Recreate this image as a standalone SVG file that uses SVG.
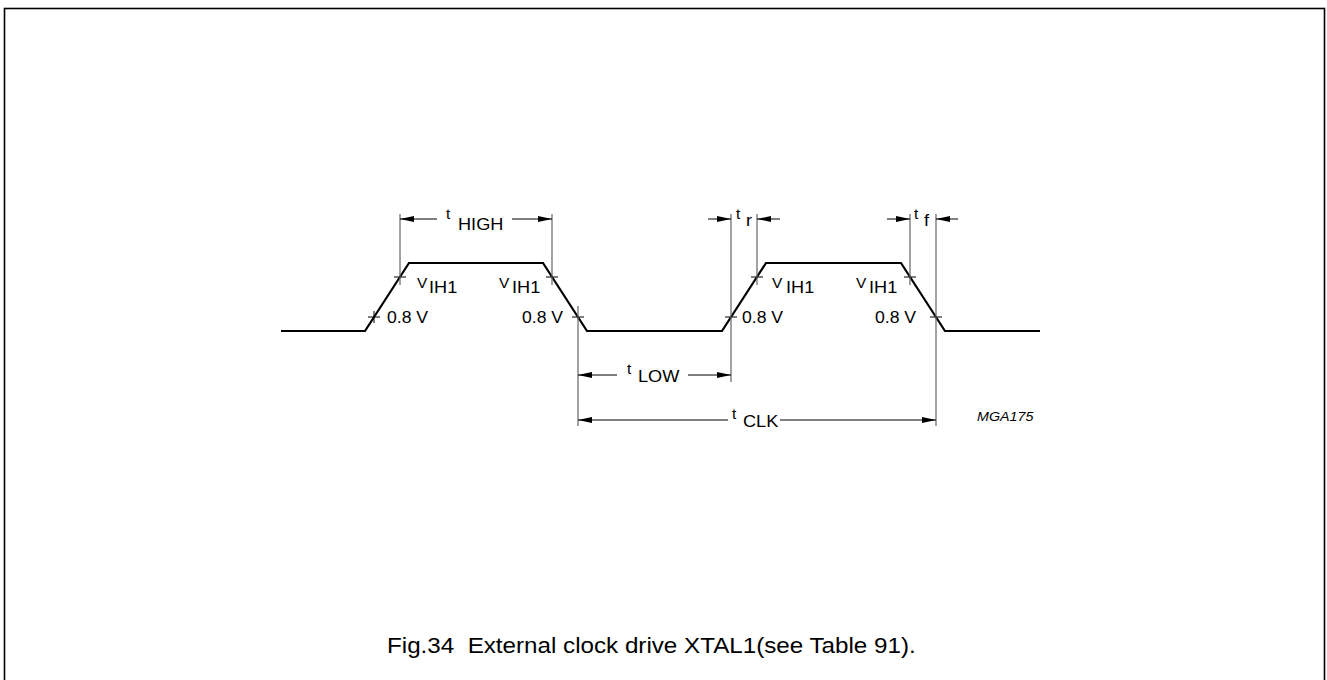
<svg xmlns="http://www.w3.org/2000/svg" width="1327" height="680" viewBox="0 0 1327 680">
  <style>
    .wave { fill: none; stroke: #000; stroke-width: 2.2; stroke-linejoin: miter; }
    .dim { fill: none; stroke: #666; stroke-width: 1.2; }
    .tick { fill: none; stroke: #000; stroke-width: 1; }
    .arr { fill: none; stroke: #000; stroke-width: 1; marker-end: url(#ah); }
    text { font-family: "Liberation Sans", Arial, sans-serif; fill: #000; }
    .lbl { font-size: 16px; }
    .sub { font-size: 16.5px; }
    .sm { font-size: 14px; }
    .v { font-size: 14px; }
    .id { font-size: 13px; font-style: italic; }
    .cap { font-size: 22px; }
  </style>
  <defs>
    <marker id="ah" markerUnits="userSpaceOnUse" markerWidth="14" markerHeight="6" refX="14" refY="3" orient="auto">
      <path d="M0,0 L14,3 L0,6 z" fill="#000"/>
    </marker>
  </defs>

  <g id="frame">
    <rect x="4.5" y="8.5" width="1320" height="690" fill="none" stroke="#000" stroke-width="1.6"/>
  </g>

  <g id="waveform">
    <polyline class="wave" points="281,331 365,331 409,263 543,263 587,331 722,331 766,263 901,263 945,331 1040,331"/>
  </g>

  <g id="ticks">
    <path class="tick" d="M368,317 H380 M374,311 V323"/>
    <path class="tick" d="M394,277 H406"/>
    <path class="tick" d="M546,277 H558"/>
    <path class="tick" d="M572,317 H584"/>
    <path class="tick" d="M725,317 H737"/>
    <path class="tick" d="M751,277 H763"/>
    <path class="tick" d="M904,277 H916"/>
    <path class="tick" d="M930,317 H942"/>
  </g>

  <g id="connectors">
    <path class="dim" d="M400,214 V285 M552,214 V285 M578,306 V426 M731,214 V382 M757,214 V285 M910,214 V285 M936,214 V426"/>
    <line class="arr" x1="437" y1="219" x2="400" y2="219"/>
    <line class="arr" x1="512" y1="219" x2="552" y2="219"/>
    <line class="arr" x1="708" y1="219" x2="731" y2="219"/>
    <line class="arr" x1="780" y1="219" x2="757" y2="219"/>
    <line class="arr" x1="887" y1="219" x2="910" y2="219"/>
    <line class="arr" x1="958" y1="219" x2="936" y2="219"/>
    <line class="arr" x1="617" y1="375" x2="578" y2="375"/>
    <line class="arr" x1="688" y1="375" x2="731" y2="375"/>
    <line class="arr" x1="728" y1="420" x2="578" y2="420"/>
    <line class="arr" x1="780" y1="420" x2="936" y2="420"/>
  </g>

  <g id="label-thigh">
    <text class="sm" transform="translate(446 219) scale(1.1 1)">t</text>
    <text class="sub" transform="translate(458 230) scale(1.1 1)">HIGH</text>
  </g>
  <g id="label-tr">
    <text class="sm" transform="translate(736 219) scale(1.1 1)">t</text>
    <text class="sub" transform="translate(746 226) scale(1.1 1)">r</text>
  </g>
  <g id="label-tf">
    <text class="sm" transform="translate(914 219) scale(1.1 1)">t</text>
    <text class="sub" transform="translate(924 226) scale(1.1 1)">f</text>
  </g>
  <g id="label-tlow">
    <text class="sm" transform="translate(627 374) scale(1.1 1)">t</text>
    <text class="sub" transform="translate(638 382) scale(1.1 1)">LOW</text>
  </g>
  <g id="label-tclk">
    <text class="sm" transform="translate(732 419) scale(1.1 1)">t</text>
    <text class="sub" transform="translate(743 427) scale(1.1 1)">CLK</text>
  </g>

  <g id="label-vih1-1">
    <text class="v" transform="translate(417 288) scale(1.1 1)">V</text>
    <text class="sub" transform="translate(429 293) scale(1.1 1)">IH1</text>
  </g>
  <g id="label-vih1-2">
    <text class="v" transform="translate(499 288) scale(1.1 1)">V</text>
    <text class="sub" transform="translate(512 293) scale(1.1 1)">IH1</text>
  </g>
  <g id="label-vih1-3">
    <text class="v" transform="translate(772 288) scale(1.1 1)">V</text>
    <text class="sub" transform="translate(786 293) scale(1.1 1)">IH1</text>
  </g>
  <g id="label-vih1-4">
    <text class="v" transform="translate(856 288) scale(1.1 1)">V</text>
    <text class="sub" transform="translate(869 293) scale(1.1 1)">IH1</text>
  </g>

  <g id="label-08v">
    <text class="lbl" transform="translate(387 323) scale(1.1 1)">0.8 V</text>
    <text class="lbl" transform="translate(522 323) scale(1.1 1)">0.8 V</text>
    <text class="lbl" transform="translate(742 323) scale(1.1 1)">0.8 V</text>
    <text class="lbl" transform="translate(875 323) scale(1.1 1)">0.8 V</text>
  </g>

  <g id="label-id">
    <text class="id" transform="translate(977 421) scale(1.1 1)">MGA175</text>
  </g>

  <g id="caption">
    <text class="cap" transform="translate(387 653) scale(1.1 1)">Fig.34&#160; External clock drive XTAL1(see Table 91).</text>
  </g>
</svg>
